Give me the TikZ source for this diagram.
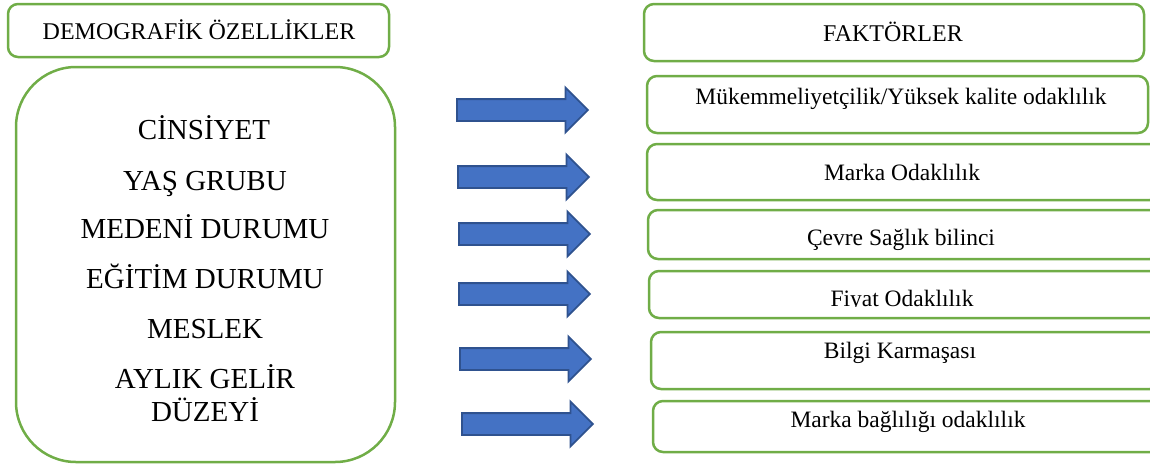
\documentclass[tikz,border=0pt]{standalone}
\usepackage{fontspec}
\setmainfont{Liberation Serif}
\usetikzlibrary{shapes.arrows}
\definecolor{boxgreen}{HTML}{70AD47}
\definecolor{arrowblue}{HTML}{4472C4}
\definecolor{arrowedge}{HTML}{2F528F}
\tikzset{
  greenbox/.style={draw=boxgreen,line width=2.5pt,rounded corners=10pt,inner sep=0pt},
  bluearrow/.style={single arrow,draw=arrowedge,fill=arrowblue,line width=1.8pt,inner xsep=0pt,inner ysep=10pt,
    single arrow head extend=11.5pt,minimum width=43pt,minimum height=131pt,anchor=tail},
  headtext/.style={anchor=base,inner sep=0pt,font=\fontsize{24}{28}\selectfont},
  itemtext/.style={anchor=base,inner sep=0pt,font=\fontsize{29}{34}\selectfont},
  factext/.style={anchor=base,inner sep=0pt,font=\fontsize{23.5}{28}\selectfont}
}
\begin{document}
\begin{tikzpicture}[x=1pt,y=-1pt]
\useasboundingbox (0,0) rectangle (1150,466);
\clip (0,0) rectangle (1150,466);
\node[greenbox,minimum width=381pt,minimum height=53pt] (f0) at (198.5,30.5) {};
\node[greenbox,rounded corners=60pt,minimum width=379pt,minimum height=395pt] (g0) at (205.5,264.5) {};
\node[greenbox,minimum width=500pt,minimum height=57pt] (k0) at (894,32.5) {};
\node[greenbox,minimum width=501pt,minimum height=57pt] (k1) at (897.5,104.5) {};
\node[greenbox,minimum width=513pt,minimum height=56pt] (k2) at (903.5,172) {};
\node[greenbox,minimum width=512pt,minimum height=49pt] (k3) at (904,234.5) {};
\node[greenbox,minimum width=511pt,minimum height=47pt] (k4) at (904.5,294.5) {};
\node[greenbox,minimum width=509pt,minimum height=57pt] (k5) at (905.5,360.5) {};
\node[greenbox,minimum width=512pt,minimum height=51pt] (k6) at (909,426.5) {};
\node[headtext] (d0) at (199,39) {DEMOGRAFİK ÖZELLİKLER};
\node[headtext] (h0) at (893,41) {FAKTÖRLER};
\node[itemtext] (t1) at (204,139) {CİNSİYET};
\node[itemtext] (t2) at (205,190) {YAŞ GRUBU};
\node[itemtext] (t3) at (205,238) {MEDENİ DURUMU};
\node[itemtext] (t4) at (205,288) {EĞİTİM DURUMU};
\node[itemtext] (t5) at (205,338) {MESLEK};
\node[itemtext] (t6) at (205,388) {AYLIK GELİR};
\node[itemtext] (t7) at (205,421) {DÜZEYİ};
\node[factext] (m1) at (901,104) {Mükemmeliyetçilik/Yüksek kalite odaklılık};
\node[factext] (m2) at (902,180) {Marka Odaklılık};
\node[factext] (m3) at (901,245) {Çevre Sağlık bilinci};
\begin{scope}
\clip (660,280) rectangle (1140,306.5);
\node[factext] (m4) at (902,306) {Fiyat Odaklılık};
\end{scope}
\node[factext] (m5) at (900,358) {Bilgi Karmaşası};
\node[factext] (m6) at (908,427) {Marka bağlılığı odaklılık};
\node[bluearrow] (a1) at (456,110) {};
\node[bluearrow] (a2) at (457,177) {};
\node[bluearrow] (a3) at (458,234) {};
\node[bluearrow] (a4) at (458,294) {};
\node[bluearrow] (a5) at (459,359) {};
\node[bluearrow] (a6) at (461,424) {};
\end{tikzpicture}
\end{document}
